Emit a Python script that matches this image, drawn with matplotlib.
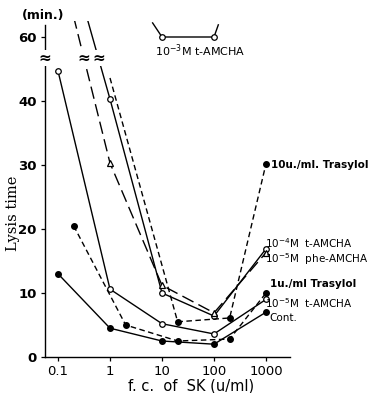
import numpy as np
import matplotlib.pyplot as plt

# SK concentration (u/ml) and lysis times (min)
sk = [0.1, 1, 10, 100, 1000]
cont = [13.0, 4.5, 2.5, 2.0, 7.0]
tamcha_5 = [44.7, 10.6, 5.2, 3.6, 9.0]
tamcha_4 = [79.0, 40.3, 10.0, 6.4, 16.9]
phe_amcha_5 = [73.0, 30.3, 11.2, 6.9, 16.3]

sk_tras = [0.2, 2, 20, 200, 1000]
tras_1 = [20.5, 5.0, 2.5, 2.8, 10.0]
sk_tras10 = [1, 20, 200, 1000]
tras_10 = [43.6, 5.5, 6.1, 30.2]

sk_tamcha_3 = [6.6, 10, 100, 121]
tamcha_3 = [62.2, 60.0, 60.0, 61.9]

# broken y axis: everything above the break is shifted down by GAP
BREAK = 46.7
GAP = 10


def disp(v):
    v = np.asarray(v, dtype=float)
    return np.where(v > 50, v - GAP, v)


W, H = 372, 393
fig = plt.figure(figsize=(W / 100, H / 100), dpi=100)
ax = fig.add_axes([45 / W, 36 / H, 245 / W, 336 / H])
ax.set_xscale('log')
ax.set_xlim(0.1 * 10 ** (-13 / 52), 0.1 * 10 ** (232 / 52))
ax.set_ylim(0, 52.5)

solid = dict(color='black', lw=1.0)
mk_open = dict(marker='o', ms=4, mfc='white', mec='black', mew=0.9)
mk_fill = dict(marker='o', ms=4, mfc='black', mec='black')

ax.plot(sk, disp(cont), **solid, **mk_fill)
ax.plot(sk, disp(tamcha_5), **solid, **mk_open)
ax.plot(sk, disp(tamcha_4), **solid, **mk_open, markevery=[1, 2, 3, 4])
ax.plot(sk, disp(phe_amcha_5), color='black', lw=1.0, dashes=(9, 4),
        marker='^', ms=4, mfc='white', mec='black', mew=0.9, markevery=[1, 2, 3, 4])
ax.plot(sk_tras, disp(tras_1), color='black', lw=1.0, dashes=(4, 2.5), **mk_fill)
ax.plot(sk_tras10, disp(tras_10), color='black', lw=1.0, dashes=(4, 2.5),
        **mk_fill, markevery=[1, 2, 3])
ax.plot(sk_tamcha_3, disp(tamcha_3), **solid, **mk_open, markevery=[1, 2])

# break marks on the axis and on the lines crossing it
def brk(x):
    ax.text(x, BREAK, '≈', ha='center', va='center', fontsize=11,
            fontweight='bold', bbox=dict(fc='white', ec='none', pad=0.2),
            clip_on=False, zorder=5)


brk(ax.get_xlim()[0])
for ys in (tamcha_4, phe_amcha_5):
    d = disp(ys)
    lx = np.interp(BREAK, [d[1], d[0]], [np.log10(sk[1]), np.log10(sk[0])])
    brk(10 ** lx)

for s in ('top', 'right'):
    ax.spines[s].set_visible(False)
ax.spines['left'].set_bounds(0, 51.8)
ax.spines['left'].set_linewidth(1.0)
ax.spines['bottom'].set_linewidth(1.0)

ax.set_yticks([0, 10, 20, 30, 40, 50])
ax.set_yticklabels(['0', '10', '20', '30', '40', '60'], fontsize=9.5, fontweight='bold')
ax.set_xticks(sk)
ax.set_xticklabels(['0.1', '1', '10', '100', '1000'], fontsize=9.5)
ax.minorticks_off()
ax.tick_params(direction='out', length=3, width=0.9, pad=3)


def ftext(x, y, s, **kw):
    fig.text(x / W, 1 - y / H, s, va='center', **kw)


ftext(22, 15, '(min.)', fontsize=9, fontweight='bold')
ftext(13, 213, 'Lysis time', rotation=90, ha='center', fontsize=10.5,
      family='DejaVu Serif')
ftext(191, 386, 'f. c.  of  SK (u/ml)', ha='center', fontsize=10.5)

ftext(155, 51, r'10$^{-3}$M t-AMCHA', fontsize=8)
ftext(271, 165, '10u./ml. Trasylol', fontsize=7.5, fontweight='bold')
ftext(265, 243, r'10$^{-4}$M  t-AMCHA', fontsize=7.5)
ftext(265, 259, r'10$^{-5}$M  phe-AMCHA', fontsize=7.5)
ftext(270, 284, '1u./ml Trasylol', fontsize=7.5, fontweight='bold')
ftext(265, 303, r'10$^{-5}$M  t-AMCHA', fontsize=7.5)
ftext(269, 318, 'Cont.', fontsize=7.5)

fig.savefig('out.png', dpi=100)
